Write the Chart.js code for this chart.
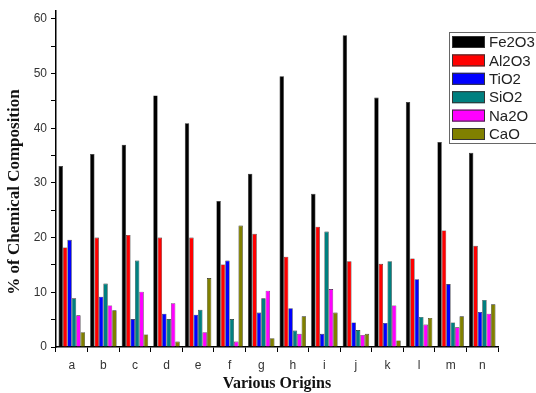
<!DOCTYPE html>
<html lang="en">
<head>
  <meta charset="UTF-8" />
  <title>Chemical Composition by Origin</title>
  <script src="https://cdn.jsdelivr.net/npm/chart.js"></script>
  <style>
    html, body { margin: 0; padding: 0; background: #fff; }
    #wrap { width: 536px; height: 393px; }
  </style>
</head>
<body>
  <div id="wrap"><canvas id="grafico" width="536" height="393"></canvas></div>

  <script>
    const origins = ['a', 'b', 'c', 'd', 'e', 'f', 'g', 'h', 'i', 'j', 'k', 'l', 'm', 'n'];
    const fe2o3 = [33.1, 35.3, 37.0, 46.0, 40.9, 26.7, 31.7, 49.5, 28.0, 57.0, 45.6, 44.8, 37.5, 35.5];
    const al2o3 = [18.2, 20.0, 20.5, 20.0, 20.0, 15.1, 20.7, 16.5, 22.0, 15.7, 15.2, 16.2, 21.3, 18.5];
    const tio2  = [19.6, 9.2, 5.1, 6.1, 5.9, 15.8, 6.3, 7.1, 2.4, 4.5, 4.4, 12.4, 11.5, 6.4];
    const sio2  = [8.9, 11.6, 15.8, 5.1, 6.8, 5.1, 8.9, 3.0, 21.1, 3.1, 15.7, 5.5, 4.5, 8.6];
    const na2o  = [5.8, 7.6, 10.1, 8.0, 2.7, 1.0, 10.3, 2.4, 10.6, 2.2, 7.6, 4.1, 3.6, 6.1];
    const cao   = [2.7, 6.7, 2.3, 1.0, 12.6, 22.2, 1.6, 5.6, 6.3, 2.4, 1.2, 5.3, 5.6, 7.8];
    const yTicks = [0, 5, 10, 15, 20, 25, 30, 35, 40, 45, 50, 55, 60];

    const seriesNames = ['Fe2O3', 'Al2O3', 'TiO2', 'SiO2', 'Na2O', 'CaO'];
    const seriesData = [fe2o3, al2o3, tio2, sio2, na2o, cao];
    const colores = ['#000000', '#ff0000', '#0000ff', '#008080', '#ff00ff', '#808000'];

    // legend box inside the plot (upper right) + y title a bit below center like the original
    const extras = {
      id: 'extras',
      afterDraw(chart) {
        const ctx = chart.ctx;
        ctx.save();

        ctx.translate(15, 192);
        ctx.rotate(-Math.PI / 2);
        ctx.font = 'bold 17px "Liberation Serif", "Times New Roman", serif';
        ctx.fillStyle = '#111';
        ctx.textAlign = 'center';
        ctx.textBaseline = 'middle';
        ctx.fillText('% of Chemical Composition', 0, 0);
        ctx.setTransform(1, 0, 0, 1, 0, 0);

        const x = 449, y = 32, w = 92, h = 111, row = 18.4;
        ctx.fillStyle = '#fff';
        ctx.fillRect(x, y, w, h);
        ctx.strokeStyle = '#666';
        ctx.lineWidth = 1;
        ctx.strokeRect(x + 0.5, y + 0.5, w, h);
        ctx.font = '15px "Liberation Sans", Arial, sans-serif';
        ctx.textAlign = 'left';
        ctx.textBaseline = 'middle';
        seriesNames.forEach((name, i) => {
          const cy = y + 10 + i * row;
          ctx.fillStyle = colores[i];
          ctx.fillRect(x + 3, cy - 6, 33, 12);
          ctx.strokeStyle = '#333';
          ctx.strokeRect(x + 3.5, cy - 5.5, 32, 11);
          ctx.fillStyle = '#222';
          ctx.fillText(name, x + 40, cy + 1);
        });
        ctx.restore();
      }
    };

    new Chart(document.getElementById('grafico'), {
      type: 'bar',
      data: {
        labels: origins,
        datasets: seriesNames.map((name, i) => ({
          label: name,
          data: seriesData[i],
          backgroundColor: colores[i],
          borderColor: '#222',
          borderWidth: 0.6,
          categoryPercentage: 0.84,
          barPercentage: 1.0
        }))
      },
      options: {
        responsive: false,
        animation: false,
        layout: { padding: { left: 0, right: 38, top: 10, bottom: 0 } },
        plugins: {
          legend: { display: false },
          tooltip: { enabled: false }
        },
        scales: {
          x: {
            grid: { display: true, drawOnChartArea: false, offset: true, color: '#000', tickLength: 5, tickWidth: 1 },
            border: { display: true, color: '#000', width: 1.5 },
            ticks: { color: '#333', font: { family: '"Liberation Sans", Arial, sans-serif', size: 12 }, padding: 6 },
            title: {
              display: true,
              text: 'Various Origins',
              color: '#111',
              font: { family: '"Liberation Serif", "Times New Roman", serif', size: 16, weight: 'bold' },
              padding: { top: 6, bottom: 0 }
            },
            afterFit(scale) { scale.height = 46; }
          },
          y: {
            min: 0,
            max: 61.4,
            afterBuildTicks(scale) {
              scale.ticks = yTicks.map(v => ({ value: v }));
            },
            grid: { display: true, drawOnChartArea: false, color: '#000', tickLength: 5, tickWidth: 1 },
            border: { display: true, color: '#000', width: 1.5 },
            ticks: {
              color: '#333',
              font: { family: '"Liberation Sans", Arial, sans-serif', size: 12 },
              padding: 4,
              callback: v => (v % 10 === 0 ? v : '')
            },
            title: { display: false },
            afterFit(scale) { scale.width = 56; }
          }
        }
      },
      plugins: [extras]
    });
  </script>
</body>
</html>
